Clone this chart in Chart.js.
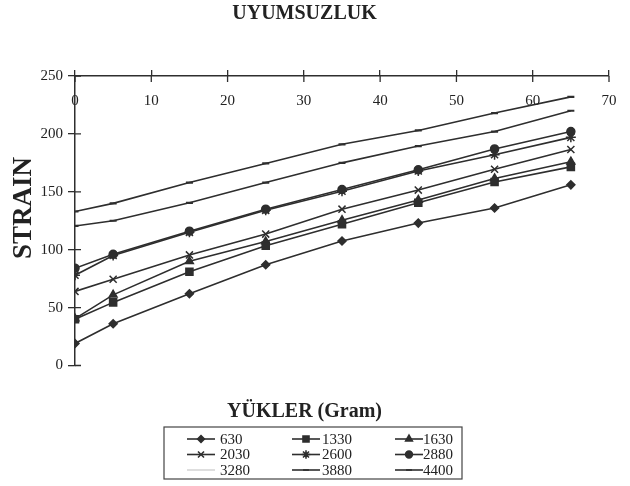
<!DOCTYPE html>
<html>
<head>
<meta charset="utf-8">
<script src="https://cdn.jsdelivr.net/npm/chart.js@4.4.1/dist/chart.umd.min.js"></script>
<style>
  html, body { margin: 0; padding: 0; background: #fff; }
</style>
</head>
<body>
<canvas id="uyumChart" width="630" height="486"></canvas>
<script>
// loads on the x axis (the chart marks them every 10)
const loads = [0, 5, 15, 25, 35, 45, 55, 65];

// strain readings per load group (legend order)
const seriesNames = ["630", "1330", "1630", "2030", "2600", "2880", "3280", "3880", "4400"];
const s630  = [19, 36, 62, 87, 107.5, 123, 136, 156];
const s1330 = [40, 54.5, 81, 103.5, 122, 140.5, 158.5, 171.5];
const s1630 = [40.5, 61, 90, 107, 125.5, 143, 161.5, 176];
const s2030 = [64, 74.5, 95.5, 113.5, 135, 151.5, 169.5, 186.5];
const s2600 = [78, 95, 115, 134, 150.5, 168, 182, 197];
const s2880 = [84, 96, 116, 135, 152, 169, 187, 202];
const s3280 = []; // drawn too faint in the scan to be read
const s3880 = [120.5, 125, 140.5, 158, 175, 189.5, 202, 220];
const s4400 = [133, 140, 158, 174.5, 191, 203, 218, 232];

const ink = "#2e2e2e";
const serif = "'Liberation Serif', 'DejaVu Serif', serif";

function pts(values) {
  return values.map((v, i) => ({ x: loads[i], y: v }));
}

function makeSet(label, values, style, radius, color) {
  return {
    label,
    data: pts(values),
    borderColor: color || ink,
    borderWidth: 1.6,
    pointStyle: style,
    pointRadius: style ? radius : 0,
    pointBackgroundColor: ink,
    pointBorderColor: ink,
    pointBorderWidth: style === "line" ? 2.2 : 1.5,
    tension: 0,
    fill: false
  };
}

const datasets = [
  makeSet(seriesNames[0], s630, "rectRot", 4),
  makeSet(seriesNames[1], s1330, "rect", 5),
  makeSet(seriesNames[2], s1630, "triangle", 4.5),
  makeSet(seriesNames[3], s2030, "crossRot", 5),
  makeSet(seriesNames[4], s2600, "star", 5),
  makeSet(seriesNames[5], s2880, "circle", 4),
  makeSet(seriesNames[6], s3280, false, 0, "#d6d6d6"),
  makeSet(seriesNames[7], s3880, "line", 3.5),
  makeSet(seriesNames[8], s4400, "line", 3.5)
];

// tick labels under the top axis, inner tick halves, STRAIN, legend box
const decor = {
  id: "decor",
  afterDraw(chart) {
    const { ctx, chartArea, scales: { x, y } } = chart;
    ctx.save();
    ctx.strokeStyle = ink;
    ctx.lineWidth = 1.3;
    ctx.beginPath();
    x.ticks.forEach(t => {
      const px = x.getPixelForValue(t.value);
      ctx.moveTo(px, chartArea.top);
      ctx.lineTo(px, chartArea.top + 6);
    });
    y.ticks.forEach(t => {
      const py = y.getPixelForValue(t.value);
      ctx.moveTo(chartArea.left, py);
      ctx.lineTo(chartArea.left + 6, py);
    });
    ctx.stroke();

    ctx.fillStyle = "#222";
    ctx.font = "15px " + serif;
    ctx.textAlign = "center";
    ctx.textBaseline = "middle";
    x.ticks.forEach(t => {
      ctx.fillText(t.label, x.getPixelForValue(t.value), chartArea.top + 25);
    });

    // y title
    ctx.save();
    ctx.translate(24, 208);
    ctx.rotate(-Math.PI / 2);
    ctx.font = "bold 27px " + serif;
    ctx.fillText("STRAIN", 0, 0);
    ctx.restore();

    // legend, 3 columns
    ctx.lineWidth = 1.2;
    ctx.strokeStyle = "#444";
    ctx.strokeRect(164, 427, 298, 52);
    const colLine = [187, 292, 395];
    const colText = [220, 322, 423];
    const rowY = [439, 454.5, 470];
    chart.data.datasets.forEach((ds, i) => {
      const c = i % 3, r = Math.floor(i / 3);
      const x1 = colLine[c], x2 = x1 + 28, yy = rowY[r];
      ctx.strokeStyle = ds.borderColor;
      ctx.lineWidth = 1.6;
      ctx.beginPath();
      ctx.moveTo(x1, yy);
      ctx.lineTo(x2, yy);
      ctx.stroke();
      if (ds.pointStyle) {
        ctx.fillStyle = ink;
        ctx.strokeStyle = ink;
        Chart.helpers.drawPoint(ctx, {
          pointStyle: ds.pointStyle,
          radius: ds.pointRadius * 0.85,
          borderWidth: ds.pointBorderWidth,
          rotation: 0
        }, (x1 + x2) / 2, yy);
      }
      ctx.fillStyle = "#222";
      ctx.font = "15px " + serif;
      ctx.textAlign = "left";
      ctx.fillText(ds.label, colText[c], yy + 1);
    });
    ctx.restore();
  }
};

new Chart(document.getElementById("uyumChart"), {
  type: "line",
  data: { datasets },
  plugins: [decor],
  options: {
    responsive: false,
    animation: false,
    layout: { padding: { left: 0, right: 21, top: 0, bottom: 62.5 } },
    plugins: {
      legend: { display: false },
      tooltip: { enabled: false },
      title: {
        display: true,
        text: "UYUMSUZLUK",
        color: "#222",
        font: { family: serif, size: 20, weight: "bold" },
        padding: { top: 2, bottom: 0 }
      },
      subtitle: {
        display: true,
        position: "bottom",
        text: "YÜKLER (Gram)",
        color: "#222",
        font: { family: serif, size: 20, weight: "bold" },
        padding: { top: 34, bottom: 0 }
      }
    },
    scales: {
      x: {
        type: "linear",
        position: "top",
        min: 0,
        max: 70,
        ticks: { stepSize: 10, display: false },
        grid: { drawOnChartArea: false, drawTicks: true, tickLength: 6, color: ink, lineWidth: 1.3 },
        border: { display: true, color: ink, width: 1.5 },
        afterFit(scale) { scale.height = 50; }
      },
      y: {
        min: 0,
        max: 250,
        ticks: { stepSize: 50, color: "#222", padding: 5, font: { family: serif, size: 15 } },
        grid: { drawOnChartArea: false, drawTicks: true, tickLength: 7, color: ink, lineWidth: 1.3 },
        border: { display: true, color: ink, width: 1.5 },
        afterFit(scale) { scale.width = 75; }
      }
    }
  }
});
</script>
</body>
</html>
